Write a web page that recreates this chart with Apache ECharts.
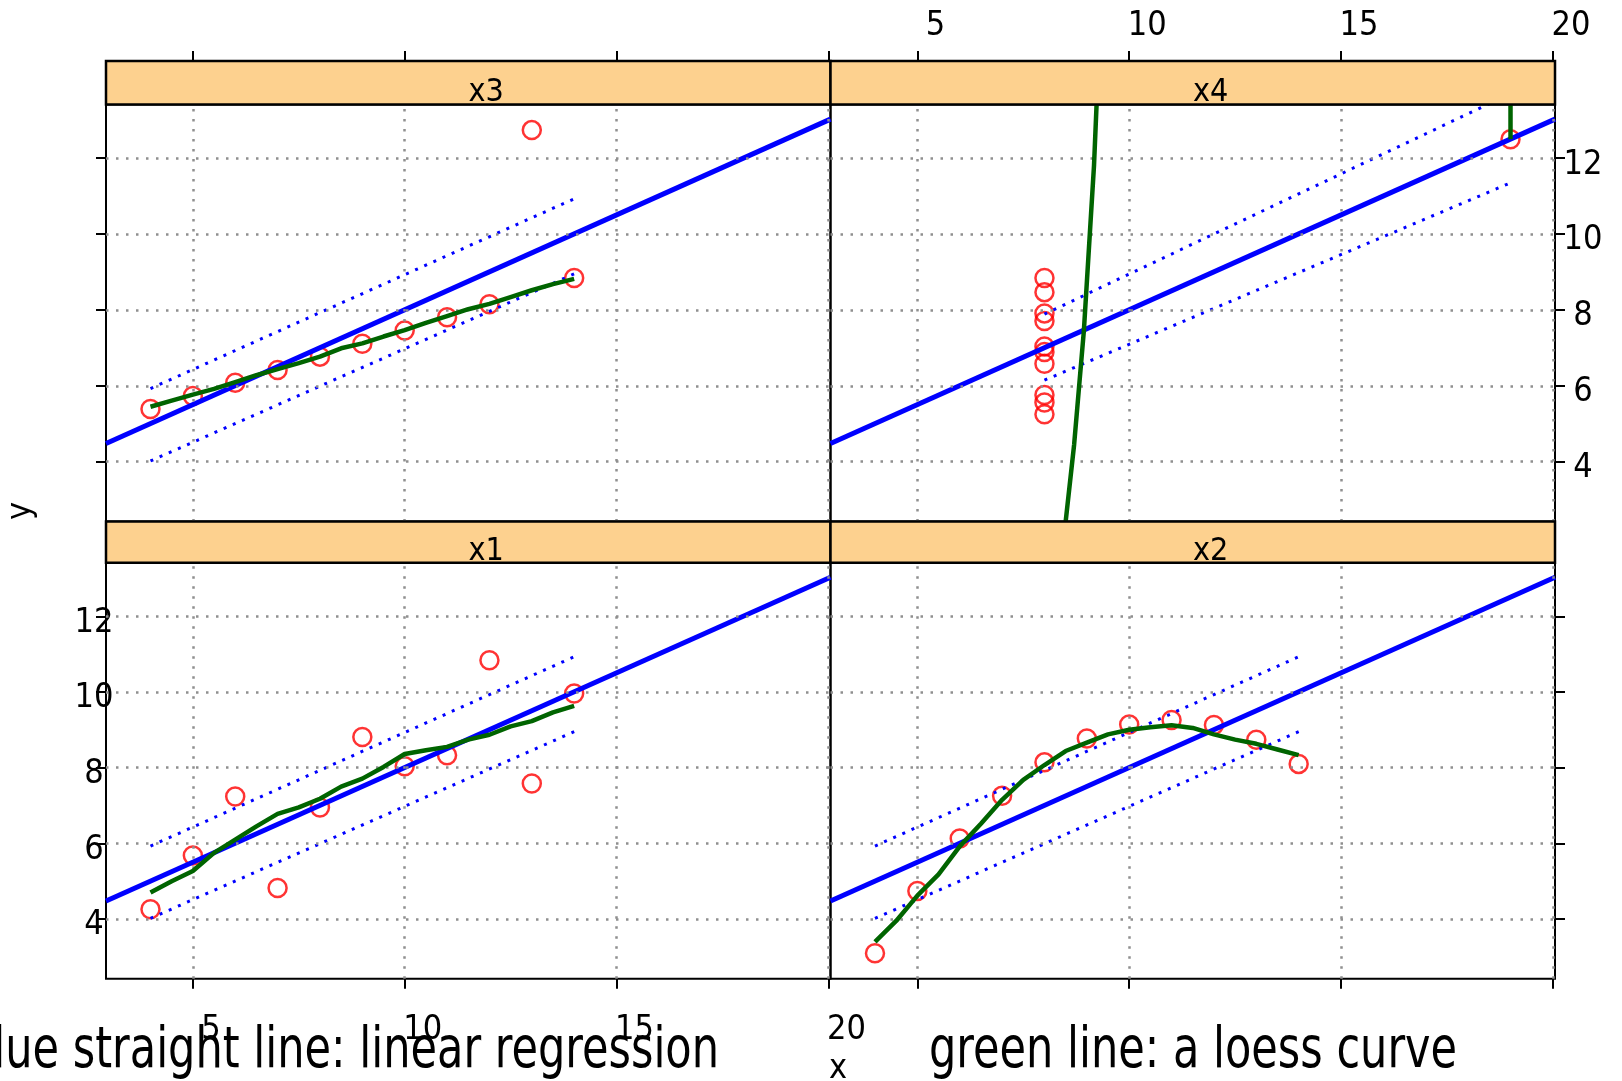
<!DOCTYPE html>
<html>
<head>
<meta charset="utf-8">
<script src="https://cdn.jsdelivr.net/npm/echarts@6/dist/echarts.min.js"></script>
<style>
  html, body { margin: 0; padding: 0; background: #fff; }
  #chart { width: 1622px; height: 1081px; }
</style>
</head>
<body>
<div id="chart"></div>
<script>
var FONT = '"Liberation Sans Narrow", "DejaVu Sans Condensed", sans-serif';

// axis ticks and ranges
var xTicks = [5, 10, 15, 20];
var yTicks = [4, 6, 8, 10, 12];
var xRange = [2.95, 20.05];
var yRange = [2.425, 13.415];

// Anscombe data
var panelNames = ['x1', 'x2', 'x3', 'x4'];
var x123 = [10, 8, 13, 9, 11, 14, 6, 4, 12, 7, 5];
var y1 = [8.04, 6.95, 7.58, 8.81, 8.33, 9.96, 7.24, 4.26, 10.84, 4.82, 5.68];
var y2 = [9.14, 8.14, 8.74, 8.77, 9.26, 8.10, 6.13, 3.10, 9.13, 7.26, 4.74];
var y3 = [7.46, 6.77, 12.74, 7.11, 7.81, 8.84, 6.08, 5.39, 8.15, 6.42, 5.73];
var x4 = [8, 8, 8, 8, 8, 8, 8, 19, 8, 8, 8];
var y4 = [6.58, 5.76, 7.71, 8.84, 8.47, 7.04, 5.25, 12.50, 5.56, 7.91, 6.89];

// blue straight line, read at the panel edges
var fitX = [2.95, 20.05];
var fitY = [4.48, 13.03];

// dotted blue lines
var bandX = [4, 14];
var bandUp = [5.93, 10.93];
var bandLo = [4.02, 8.95];
var band4X = [8, 19];
var band4Up = [7.89, 13.70];
var band4Lo = [6.15, 11.35];

// green loess curves
var loessX = [4, 4.5, 5, 5.5, 6, 6.5, 7, 7.5, 8, 8.5, 9, 9.5, 10, 10.5, 11, 11.5, 12, 12.5, 13, 13.5, 14];
var loess1 = [4.70, 5.00, 5.27, 5.75, 6.10, 6.45, 6.78, 6.95, 7.18, 7.50, 7.71, 8.02, 8.36, 8.46, 8.55, 8.74, 8.87, 9.09, 9.23, 9.46, 9.63];
var loess2 = [3.40, 3.95, 4.62, 5.18, 5.92, 6.52, 7.15, 7.68, 8.07, 8.44, 8.66, 8.88, 9.00, 9.07, 9.12, 9.05, 8.88, 8.74, 8.63, 8.48, 8.33];
var loess3 = [5.45, 5.61, 5.77, 5.92, 6.10, 6.28, 6.44, 6.60, 6.77, 6.99, 7.12, 7.30, 7.47, 7.66, 7.84, 8.02, 8.16, 8.34, 8.52, 8.68, 8.82];
var loess4X = [8.50, 8.70, 8.93, 9.17, 9.23];
var loess4Y = [2.42, 4.45, 7.45, 11.82, 13.41];
var loess4TailX = [19, 19];
var loess4TailY = [13.42, 12.50];

function zip(xs, ys) {
  return xs.map(function(x, i) { return [x, ys[i]]; });
}

// panel layout: x1 bottom-left, x2 bottom-right, x3 top-left, x4 top-right
var colLeft = [106, 830.5];
var panelW = 724.5;
var rowTop = { top: 104.5, bottom: 562.7 };
var rowH = { top: 417, bottom: 416 };
var stripH = { top: 43.5, bottom: 41.3 };
var place = [
  { col: 0, row: 'bottom' },
  { col: 1, row: 'bottom' },
  { col: 0, row: 'top' },
  { col: 1, row: 'top' }
];

var xs = [x123, x123, x123, x4];
var ys = [y1, y2, y3, y4];

var grids = [], xAxes = [], yAxes = [], series = [], graphics = [];

var tickStyle = { color: '#000', width: 2 };
var labelBase = { color: '#000', fontFamily: FONT, fontSize: 34 };

place.forEach(function(p, i) {
  var left = colLeft[p.col];
  var top = rowTop[p.row];
  grids.push({
    left: left, top: top, width: panelW, height: rowH[p.row],
    show: true, borderColor: '#000', borderWidth: 2, backgroundColor: 'transparent'
  });

  var isBottom = p.row === 'bottom';
  xAxes.push({
    type: 'value', gridIndex: i, min: xRange[0], max: xRange[1], position: 'bottom',
    axisLine: { show: false }, splitLine: { show: false },
    axisTick: { show: isBottom, customValues: xTicks, length: 10, lineStyle: tickStyle },
    axisLabel: Object.assign({ show: isBottom && p.col === 0, customValues: xTicks, margin: 34,
      align: 'center', padding: [0, 0, 0, 36] }, labelBase)
  });
  yAxes.push({
    type: 'value', gridIndex: i, min: yRange[0], max: yRange[1],
    position: p.col === 0 ? 'left' : 'right',
    axisLine: { show: false }, splitLine: { show: false },
    axisTick: { show: true, customValues: yTicks, length: 10, lineStyle: tickStyle },
    axisLabel: Object.assign({
      show: (p.col === 0 && isBottom) || (p.col === 1 && !isBottom),
      customValues: yTicks, align: 'center', verticalAlign: 'top', lineHeight: 13,
      margin: p.col === 0 ? 12 : 28
    }, labelBase)
  });

  // strip
  var sy = top - stripH[p.row];
  graphics.push({
    type: 'rect', z: 50,
    shape: { x: left, y: sy, width: panelW, height: stripH[p.row] },
    style: { fill: '#FDD18F', stroke: '#000', lineWidth: 2.5 }
  });
  graphics.push({
    type: 'text', z: 51, x: left + panelW / 2 + 18, y: sy + stripH[p.row] / 2 + 10,
    style: { text: panelNames[i], fill: '#000', font: '32px ' + FONT, textAlign: 'center', textVerticalAlign: 'middle' }
  });

  // gridlines
  series.push({
    type: 'line', xAxisIndex: i, yAxisIndex: i, data: [], z: 1, silent: true,
    markLine: {
      silent: true, symbol: 'none', animation: false, label: { show: false },
      lineStyle: { color: '#8f8f8f', width: 2.5, type: [2.5, 7.5] },
      emphasis: { disabled: true },
      data: xTicks.map(function(v) { return { xAxis: v }; })
        .concat(yTicks.map(function(v) { return { yAxis: v }; }))
    }
  });

  // points
  series.push({
    type: 'scatter', xAxisIndex: i, yAxisIndex: i, z: 2, symbol: 'circle', symbolSize: 18,
    itemStyle: { color: 'rgba(0,0,0,0)', borderColor: '#ff0000', borderWidth: 2.5 },
    data: zip(xs[i], ys[i])
  });

  // dotted lines
  var bx = i === 3 ? band4X : bandX;
  [i === 3 ? band4Up : bandUp, i === 3 ? band4Lo : bandLo].forEach(function(b) {
    series.push({
      type: 'line', xAxisIndex: i, yAxisIndex: i, z: 3, symbol: 'none', clip: true,
      lineStyle: { color: '#0000ff', width: 3, type: [3, 7] },
      data: zip(bx, b)
    });
  });

  // regression line
  series.push({
    type: 'line', xAxisIndex: i, yAxisIndex: i, z: 4, symbol: 'none', clip: true,
    lineStyle: { color: '#0000ff', width: 5 },
    data: zip(fitX, fitY)
  });
});

// loess curves
[loess1, loess2, loess3].forEach(function(l, i) {
  series.push({
    type: 'line', xAxisIndex: i, yAxisIndex: i, z: 5, symbol: 'none', clip: true,
    lineStyle: { color: '#006400', width: 4.5 },
    data: zip(loessX, l)
  });
});
series.push({
  type: 'line', xAxisIndex: 3, yAxisIndex: 3, z: 5, symbol: 'none', clip: true,
  lineStyle: { color: '#006400', width: 4.5 },
  data: zip(loess4X, loess4Y)
});
series.push({
  type: 'line', xAxisIndex: 3, yAxisIndex: 3, z: 5, symbol: 'none', clip: true,
  lineStyle: { color: '#006400', width: 4.5 },
  data: zip(loess4TailX, loess4TailY)
});

// top axes above the strips
[2, 3].forEach(function(g) {
  xAxes.push({
    type: 'value', gridIndex: g, min: xRange[0], max: xRange[1], position: 'top', offset: stripH.top,
    axisLine: { show: false }, splitLine: { show: false },
    axisTick: { show: true, customValues: xTicks, length: 10, lineStyle: tickStyle },
    axisLabel: Object.assign({ show: g === 3, customValues: xTicks, margin: 18,
      align: 'center', padding: [0, 0, 0, 36] }, labelBase)
  });
});

// axis titles and notes
graphics.push({
  type: 'text', x: 838, y: 1069,
  style: { text: 'x', fill: '#000', font: '34px ' + FONT, textAlign: 'center', textVerticalAlign: 'middle' }
});
graphics.push({
  type: 'text', x: 21, y: 511, rotation: Math.PI / 2,
  style: { text: 'y', fill: '#000', font: '34px ' + FONT, textAlign: 'center', textVerticalAlign: 'middle' }
});
graphics.push({
  type: 'text', x: 719, y: 1081, scaleX: 0.84,
  style: { text: 'blue straight line: linear regression', fill: '#000', font: '57px ' + FONT,
    textAlign: 'right', textVerticalAlign: 'bottom' }
});
graphics.push({
  type: 'text', x: 929, y: 1081, scaleX: 0.84,
  style: { text: 'green line: a loess curve', fill: '#000', font: '57px ' + FONT,
    textAlign: 'left', textVerticalAlign: 'bottom' }
});

var chart = echarts.init(document.getElementById('chart'));
chart.setOption({
  animation: false,
  backgroundColor: '#fff',
  grid: grids,
  xAxis: xAxes,
  yAxis: yAxes,
  series: series,
  graphic: graphics
});
</script>
</body>
</html>
